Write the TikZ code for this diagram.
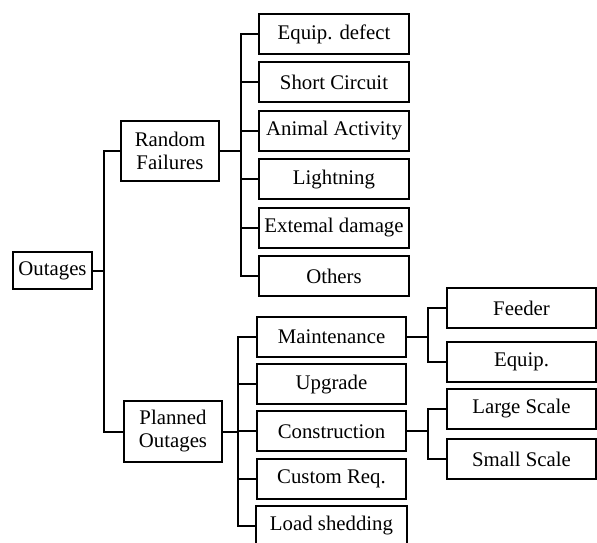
\documentclass[tikz,border=0pt]{standalone}
\usepackage{fontspec}
\setmainfont{Liberation Serif}
\usetikzlibrary{positioning}

\begin{document}
\begin{tikzpicture}[x=0.5pt,y=-0.5pt,
 box/.style={draw,line width=1pt,align=center,inner sep=1pt,font=\fontsize{10.4}{11.5}\selectfont},
 leaf/.style={box,minimum width=75pt,minimum height=20pt},
 link/.style={line width=1pt}]
\useasboundingbox (0,0) rectangle (597,542);
% root and main branches
\node[box,minimum width=39.5pt,minimum height=18.5pt] (out) at (52.5,270.5) {Outages};
\node[box,minimum width=49pt,minimum height=30pt] (rf) at (170,151) {Random\\Failures};
\node[box,minimum width=49pt,minimum height=30.5pt] (po) at (173,431.5) {Planned\\Outages};
% random failures
\node[leaf] (r1) at (334,34) {Equip. defect};
\node[leaf,below=3.2pt of r1] (r2) {Short Circuit};
\node[leaf,below=3.2pt of r2] (r3) {Animal Activity};
\node[leaf,below=3.2pt of r3] (r4) {Lightning};
\node[leaf,below=3.2pt of r4] (r5) {Extemal damage};
\node[leaf,below=3.2pt of r5] (r6) {Others};
% planned outages
\node[leaf,minimum width=74.5pt] (p1) at (331.5,337) {Maintenance};
\node[leaf,minimum width=74.5pt,below=2.6pt of p1] (p2) {Upgrade};
\node[leaf,minimum width=74.5pt,below=2.6pt of p2] (p3) {Construction};
\node[leaf,minimum width=74.5pt,below=2.6pt of p3] (p4) {Custom Req.};
\node[leaf,minimum width=75.5pt,below=2.6pt of p4] (p5) {Load shedding};
% sub-branches
\node[leaf,minimum width=74.5pt] (m1) at (521.5,308) {Feeder};
\node[leaf,minimum width=74.5pt] (m2) at (521.5,361.5) {Equip.};
\node[leaf,minimum width=74.5pt] (c1) at (521.5,408.5) {Large Scale};
\node[leaf,minimum width=74.5pt] (c2) at (521.5,459) {Small Scale};
% connectors
\draw[link] (out.east) -- ++(5.5pt,0) coordinate (j0) |- (rf.west) (j0) |- (po.west);
\draw[link] (rf.east) -- ++(10.5pt,0) coordinate (j1);
\foreach \c in {r1,r2,r3,r4,r5,r6} \draw[link] (j1) |- (\c.west);
\draw[link] (po.east) -- ++(7.5pt,0) coordinate (j2);
\foreach \c in {p1,p2,p3,p4,p5} \draw[link] (j2) |- (\c.west);
\draw[link] (p1.east) -- ++(10.5pt,0) coordinate (j3) |- (m1.west) (j3) |- (m2.west);
\draw[link] (p3.east) -- ++(10.5pt,0) coordinate (j4) |- (c1.west) (j4) |- (c2.west);
\end{tikzpicture}
\end{document}
